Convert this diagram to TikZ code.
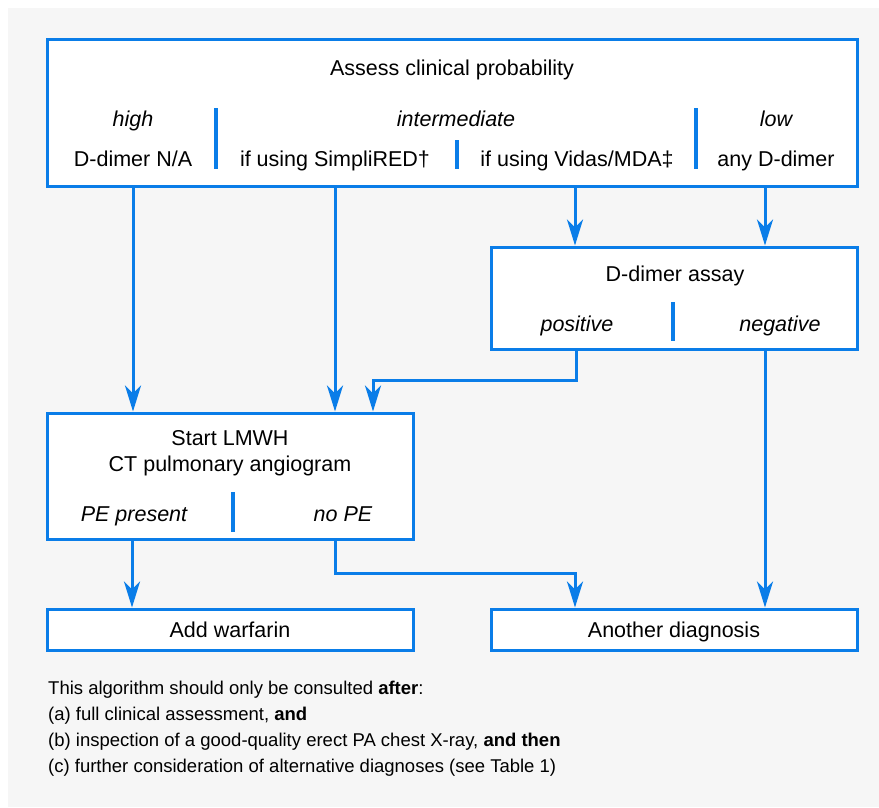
\documentclass[tikz,border=0pt]{standalone}
\usepackage{fontspec}
\setmainfont{Liberation Sans}
\usetikzlibrary{arrows.meta}
\definecolor{flowblue}{HTML}{0A7DE8}
\definecolor{panel}{HTML}{F6F6F6}
\tikzset{
  box/.style={draw=flowblue,line width=3pt,fill=white,inner sep=0pt},
  flow/.style={draw=flowblue,line width=3pt,-{Stealth[length=26pt,width=16pt,inset=8pt]}},
  divider/.style={draw=flowblue,line width=3.2pt},
  lbl/.style={anchor=base,inner sep=0pt,font=\fontsize{21.5}{25}\selectfont},
  ilbl/.style={lbl,font=\fontsize{21.5}{25}\selectfont\itshape},
}
\begin{document}
\begin{tikzpicture}[x=1pt,y=-1pt]
  \fill[white](0,0)rectangle(879,807);
  \fill[panel](8,8)rectangle(879,807);
  \useasboundingbox(0,0)rectangle(879,807);
  % boxes
  \node[box,minimum width=810pt,minimum height=147pt](top)at(452,112.5){};
  \node[box,minimum width=366pt,minimum height=102pt](dimer)at(674,298){};
  \node[box,minimum width=366pt,minimum height=126pt](lmwh)at(230,476){};
  \node[box,minimum width=366pt,minimum height=41pt](warfarin)at(230,629.5){};
  \node[box,minimum width=366pt,minimum height=41pt](otherdx)at(674,629.5){};
  % texts
  \node[lbl](assess)at(452,75){Assess clinical probability};
  \node[ilbl](high)at(133,126){high};
  \node[lbl](ddna)at(133,166){D-dimer N/A};
  \node[ilbl](inter)at(456,126){intermediate};
  \node[lbl](simpli)at(335,166){if using SimpliRED†};
  \node[lbl](vidas)at(577,166){if using Vidas/MDA‡};
  \node[ilbl](low)at(776,126){low};
  \node[lbl](anyd)at(776,166){any D-dimer};
  \node[lbl](assay)at(675,281.5){D-dimer assay};
  \node[ilbl](pos)at(577,331){positive};
  \node[ilbl](neg)at(780,331){negative};
  \node[lbl](start)at(230,445){Start LMWH};
  \node[lbl](ctpa)at(230,471){CT pulmonary angiogram};
  \node[ilbl](pepres)at(134,521.5){PE present};
  \node[ilbl](nope)at(343,521.5){no PE};
  \node[lbl](addw)at(230,637){Add warfarin};
  \node[lbl](another)at(674,637){Another diagnosis};
  % dividers
  \draw[divider](216,108)--(216,169);
  \draw[divider](696,108)--(696,169);
  \draw[divider](457,140)--(457,169);
  \draw[divider](673,302)--(673,341);
  \draw[divider](233,492)--(233,532);
  % arrows
  \draw[flow](top.south -| 133,0)--(lmwh.north -| 133,0);
  \draw[flow](top.south -| 335,0)--(lmwh.north -| 335,0);
  \draw[flow](top.south -| 575,0)--(dimer.north -| 575,0);
  \draw[flow](top.south -| 765,0)--(dimer.north -| 765,0);
  \draw[flow](dimer.south -| 576,0)|-(373,380)--(lmwh.north -| 373,0);
  \draw[flow](dimer.south -| 765,0)--(otherdx.north -| 765,0);
  \draw[flow](lmwh.south -| 132,0)--(warfarin.north -| 132,0);
  \draw[flow](lmwh.south -| 335,0)|-(575,573)--(otherdx.north -| 575,0);
  % note
  \node[anchor=north west,inner sep=0pt,align=left,font=\fontsize{18.5}{26}\selectfont](note)at(48,680.5){This algorithm should only be consulted \textbf{after}:\\(a) full clinical assessment, \textbf{and}\\(b) inspection of a good-quality erect PA chest X-ray, \textbf{and then}\\(c) further consideration of alternative diagnoses (see Table 1)};
\end{tikzpicture}
\end{document}
